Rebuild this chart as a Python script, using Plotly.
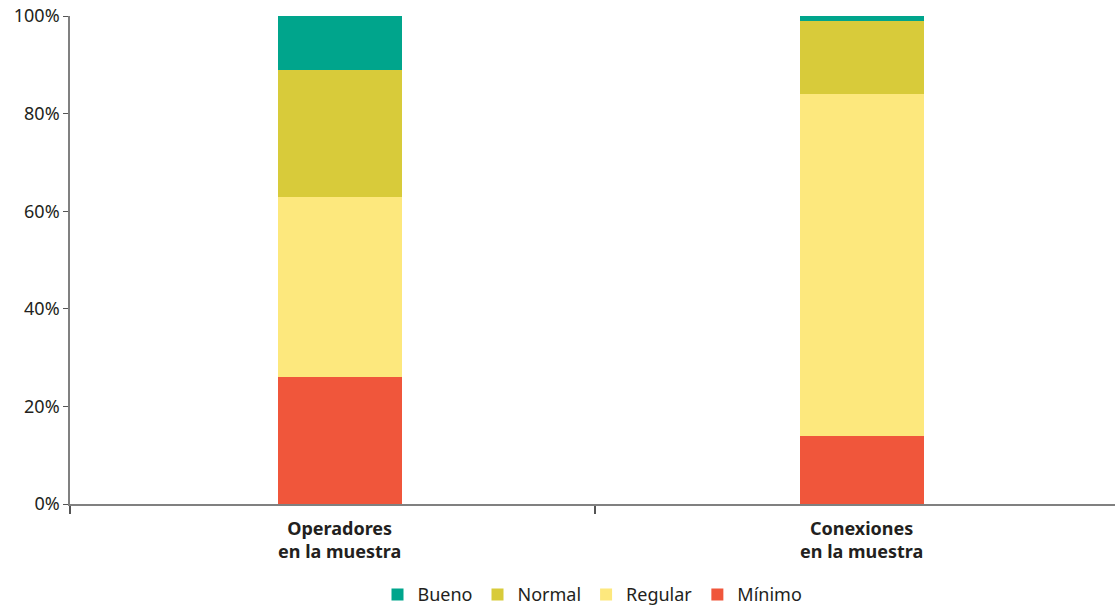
import plotly.graph_objects as go

categories = ["Operadores<br>en la muestra", "Conexiones<br>en la muestra"]
series_names = ["Mínimo", "Regular", "Normal", "Bueno"]
minimo = [26, 14]
regular = [37, 70]
normal = [26, 15]
bueno = [11, 1]
colors = ["#F0563B", "#FDE87D", "#D8CB3A", "#00A58C"]
y_ticks = [0, 20, 40, 60, 80, 100]
y_tick_labels = [f"{v}%" for v in y_ticks]

values = [minimo, regular, normal, bueno]
xpos = list(range(len(categories)))

fig = go.Figure()
for name, vals, col in zip(series_names, values, colors):
    fig.add_trace(go.Bar(
        x=xpos, y=vals, name=name, width=0.2375,
        marker=dict(color=col, line=dict(width=0)),
    ))

FONT = "Noto Sans"
fig.update_layout(
    barmode="stack",
    width=1115, height=607,
    margin=dict(l=70, r=0, t=16, b=103, autoexpand=False),
    paper_bgcolor="white", plot_bgcolor="white",
    font=dict(family=FONT, size=18, color="#231F20"),
    showlegend=True,
    legend=dict(orientation="h", traceorder="reversed", x=0.5, xanchor="center",
                xref="paper", y=-0.186, yanchor="middle", yref="paper",
                font=dict(size=18, color="#231F20"), itemwidth=30,
                itemclick=False, tracegroupgap=0),
    xaxis=dict(range=[-0.517, 1.485], showgrid=False, zeroline=False,
               showline=True, linecolor="#808080", linewidth=1.5,
               tickmode="array", tickvals=[-0.517, 0.489], ticktext=["", ""],
               ticks="outside", ticklen=8, tickcolor="#555555", tickwidth=1.5),
    yaxis=dict(range=[0, 100], tickmode="array", tickvals=y_ticks,
               ticktext=y_tick_labels, automargin=False,
               showgrid=False, zeroline=False, showline=True,
               linecolor="#808080", linewidth=1.5,
               ticks="outside", ticklen=5, tickcolor="#555555", tickwidth=1.2,
               tickfont=dict(size=18, color="#231F20")),
)

for i, cat in enumerate(categories):
    fig.add_annotation(x=i, xref="x", y=-0.02, yref="paper", yanchor="top",
                       text="<b>" + cat + "</b>", showarrow=False,
                       font=dict(family=FONT, size=18, color="#231F20"),
                       align="center")

fig.write_html("out.html")
